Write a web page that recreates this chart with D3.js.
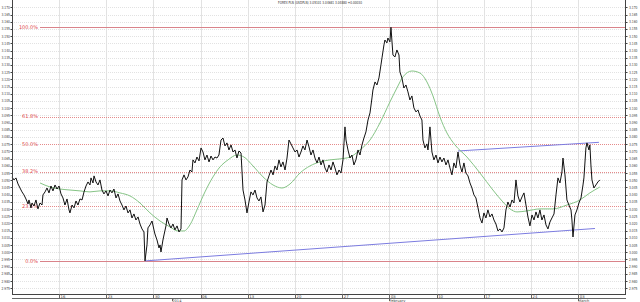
<!DOCTYPE html>
<html lang="en">
<head>
<meta charset="utf-8">
<title>FOREX PLN</title>
<script src="https://cdn.jsdelivr.net/npm/d3@7"></script>
<style>
body { margin: 0; background: #fff; }
svg { display: block; font-family: "DejaVu Sans", sans-serif; }
</style>
</head>
<body>
<script>
// chart text
var title = "FOREX PLN (USDPLN) 3.05101 3.04681 3.04880 +0.00030"

// price: [trading day since Mon 9 Dec 2013, quote]
var price = [
[0.02,3.0523],[0.23,3.0502],[0.44,3.0516],[0.66,3.0474],[0.87,3.0446],[1.08,3.0419],[1.29,3.0398],[1.50,3.0370],
[1.72,3.0335],[1.82,3.0363],[2.03,3.0308],[2.14,3.0342],[2.35,3.0321],[2.56,3.0363],[2.77,3.0301],[2.99,3.0342],
[3.20,3.0328],[3.30,3.0398],[3.52,3.0419],[3.73,3.0446],[3.94,3.0412],[4.15,3.0460],[4.36,3.0426],[4.58,3.0467],
[4.79,3.0439],[5.00,3.0460],[5.21,3.0405],[5.42,3.0377],[5.63,3.0328],[5.85,3.0370],[6.06,3.0294],[6.16,3.0273],
[6.38,3.0328],[6.59,3.0308],[6.80,3.0356],[7.01,3.0328],[7.22,3.0370],[7.44,3.0363],[7.65,3.0419],[7.86,3.0460],
[8.07,3.0488],[8.28,3.0467],[8.39,3.0516],[8.60,3.0481],[8.71,3.0530],[8.92,3.0488],[9.13,3.0467],[9.34,3.0502],
[9.55,3.0432],[9.76,3.0405],[9.98,3.0426],[10.19,3.0391],[10.40,3.0432],[10.61,3.0412],[10.82,3.0439],[11.04,3.0377],
[11.25,3.0405],[11.46,3.0356],[11.67,3.0328],[11.88,3.0294],[12.09,3.0321],[12.31,3.0273],[12.52,3.0294],[12.73,3.0238],
[12.94,3.0266],[13.15,3.0224],[13.37,3.0245],[13.58,3.0196],[13.79,3.0162],[14.00,3.0141],[14.11,2.9940],[14.32,3.0051],
[14.42,3.0169],[14.64,3.0190],[14.85,3.0217],[15.06,3.0155],[15.16,3.0127],[15.38,3.0085],[15.59,3.0030],[15.70,3.0051],
[15.80,3.0002],[16.01,3.0085],[16.12,3.0120],[16.33,3.0183],[16.44,3.0238],[16.65,3.0196],[16.86,3.0169],[17.07,3.0196],
[17.28,3.0155],[17.50,3.0183],[17.71,3.0141],[17.92,3.0162],[18.03,3.0502],[18.24,3.0537],[18.45,3.0502],[18.66,3.0523],
[18.87,3.0571],[19.08,3.0557],[19.19,3.0641],[19.40,3.0620],[19.61,3.0661],[19.83,3.0634],[20.04,3.0724],[20.25,3.0696],
[20.46,3.0641],[20.67,3.0675],[20.89,3.0627],[21.10,3.0668],[21.31,3.0641],[21.52,3.0661],[21.73,3.0654],[21.94,3.0675],
[22.16,3.0779],[22.37,3.0793],[22.58,3.0738],[22.79,3.0759],[23.00,3.0710],[23.22,3.0745],[23.43,3.0696],[23.64,3.0710],
[23.85,3.0654],[24.06,3.0703],[24.28,3.0689],[24.49,3.0432],[24.70,3.0363],[24.91,3.0273],[25.12,3.0349],[25.33,3.0419],
[25.55,3.0398],[25.76,3.0432],[25.97,3.0377],[26.18,3.0356],[26.39,3.0384],[26.61,3.0280],[26.82,3.0328],[27.03,3.0488],
[27.24,3.0530],[27.45,3.0571],[27.67,3.0537],[27.88,3.0599],[28.09,3.0571],[28.30,3.0641],[28.51,3.0592],[28.72,3.0627],
[28.94,3.0571],[29.15,3.0654],[29.36,3.0779],[29.57,3.0752],[29.78,3.0724],[30.00,3.0696],[30.21,3.0710],[30.42,3.0661],
[30.63,3.0696],[30.84,3.0738],[31.05,3.0710],[31.27,3.0779],[31.48,3.0731],[31.69,3.0675],[31.90,3.0710],[32.11,3.0654],
[32.33,3.0620],[32.54,3.0661],[32.75,3.0606],[32.96,3.0641],[33.17,3.0585],[33.38,3.0557],[33.60,3.0606],[33.81,3.0571],
[34.02,3.0627],[34.23,3.0585],[34.44,3.0537],[34.66,3.0571],[34.87,3.0550],[35.08,3.0641],[35.29,3.0870],[35.40,3.0779],
[35.61,3.0710],[35.82,3.0654],[36.03,3.0675],[36.24,3.0606],[36.45,3.0641],[36.67,3.0710],[36.88,3.0675],[37.09,3.0745],
[37.30,3.0793],[37.51,3.0835],[37.73,3.0918],[37.94,3.0967],[38.15,3.1071],[38.25,3.1126],[38.47,3.1182],[38.68,3.1161],
[38.89,3.1210],[39.10,3.1300],[39.21,3.1349],[39.42,3.1439],[39.52,3.1473],[39.73,3.1453],[39.84,3.1487],[40.05,3.1460],
[40.16,3.1561],[40.37,3.1369],[40.58,3.1355],[40.79,3.1404],[41.01,3.1369],[41.11,3.1251],[41.32,3.1210],[41.53,3.1140],
[41.75,3.1161],[41.96,3.1113],[42.17,3.1057],[42.38,3.1085],[42.59,3.1002],[42.81,3.0974],[43.02,3.0988],[43.23,3.0946],
[43.44,3.0918],[43.55,3.0779],[43.76,3.0724],[43.97,3.0752],[44.08,3.0710],[44.18,3.0779],[44.29,3.0870],[44.50,3.0696],
[44.71,3.0641],[44.93,3.0675],[45.14,3.0620],[45.35,3.0661],[45.56,3.0627],[45.77,3.0654],[45.99,3.0606],[46.20,3.0641],
[46.41,3.0585],[46.62,3.0537],[46.83,3.0620],[47.04,3.0585],[47.26,3.0696],[47.47,3.0606],[47.68,3.0557],[47.89,3.0620],
[48.10,3.0550],[48.32,3.0530],[48.53,3.0481],[48.74,3.0446],[48.95,3.0398],[49.16,3.0377],[49.38,3.0308],[49.59,3.0238],
[49.80,3.0203],[50.01,3.0273],[50.22,3.0238],[50.43,3.0294],[50.65,3.0245],[50.86,3.0266],[51.07,3.0224],[51.28,3.0196],
[51.49,3.0148],[51.71,3.0162],[51.92,3.0141],[52.13,3.0169],[52.34,3.0294],[52.55,3.0349],[52.77,3.0314],[52.98,3.0363],
[53.19,3.0342],[53.40,3.0502],[53.61,3.0391],[53.82,3.0349],[54.04,3.0384],[54.25,3.0412],[54.46,3.0328],[54.67,3.0245],
[54.88,3.0183],[55.10,3.0259],[55.31,3.0224],[55.52,3.0280],[55.73,3.0238],[55.94,3.0294],[56.15,3.0224],[56.37,3.0259],
[56.58,3.0190],[56.79,3.0162],[57.00,3.0210],[57.21,3.0238],[57.43,3.0266],[57.64,3.0398],[57.85,3.0516],[58.06,3.0481],
[58.27,3.0557],[58.38,3.0654],[58.59,3.0537],[58.80,3.0363],[59.01,3.0328],[59.23,3.0294],[59.33,3.0224],[59.44,3.0106],
[59.65,3.0259],[59.86,3.0294],[60.07,3.0342],[60.29,3.0377],[60.50,3.0467],[60.60,3.0516],[60.81,3.0724],[60.92,3.0759],
[61.13,3.0710],[61.23,3.0745],[61.34,3.0606],[61.45,3.0502],[61.66,3.0446],[61.87,3.0467],[62.08,3.0488],[62.29,3.0502]
]

// moving average (green)
var average = [
[2.99,3.0481],[4.05,3.0453],[5.10,3.0439],[6.16,3.0432],[7.22,3.0426],[8.28,3.0419],[9.34,3.0426],[10.40,3.0426],
[11.46,3.0412],[12.52,3.0391],[13.58,3.0342],[14.64,3.0273],[15.70,3.0217],[16.75,3.0176],[17.60,3.0148],[18.24,3.0148],
[18.87,3.0190],[19.61,3.0294],[20.46,3.0419],[21.31,3.0523],[22.05,3.0592],[22.90,3.0641],[23.85,3.0675],[24.59,3.0661],
[25.55,3.0599],[26.61,3.0523],[27.67,3.0467],[28.62,3.0446],[29.47,3.0474],[30.52,3.0550],[31.58,3.0599],[32.64,3.0627],
[33.70,3.0641],[34.76,3.0648],[35.82,3.0661],[36.88,3.0710],[37.94,3.0779],[38.99,3.0897],[40.05,3.1043],[40.79,3.1140],
[41.43,3.1217],[42.38,3.1258],[43.23,3.1244],[43.97,3.1182],[44.61,3.1085],[45.35,3.0939],[46.09,3.0828],[46.94,3.0745],
[48.21,3.0661],[49.59,3.0550],[50.96,3.0432],[52.02,3.0349],[52.77,3.0301],[53.51,3.0280],[54.56,3.0287],[55.94,3.0301],
[57.32,3.0301],[58.80,3.0328],[60.18,3.0363],[61.23,3.0412],[62.29,3.0453]
]

// fibonacci retracement between low and high
var fibLow = 2.9940, fibHigh = 3.1561
var fibRatios = [0, 0.236, 0.382, 0.5, 0.618, 1]
var fibLabels = ["0.0%", "23.6%", "38.2%", "50.0%", "61.8%", "100.0%"]

// trend lines
var trendLower = [[14.11, 2.9940], [61.77, 3.0165]]
var trendUpper = [[47.26, 3.0703], [62.19, 3.0763]]

// axes
var yTicks = d3.range(2.975, 3.1701, 0.005)
var weekDays = [5, 10, 15, 20, 25, 30, 35, 40, 45, 50, 55, 60]
var weekLabels = ["16", "23", "30", "06", "13", "20", "27", "03", "10", "17", "24", "03"]
var monthDays = [17, 40, 60]
var monthLabels = ["2014", "February", "March"]

var w = 640, h = 302
var plotL = 12, plotR = 625, plotT = 0, plotB = 294

var svg = d3.select("body").append("svg").attr("width", w).attr("height", h)

var x = d3.scaleLinear().domain([0, 64.95]).range([11.8, plotR])
var y = d3.scaleLinear().domain([2.97104, 3.17507]).range([plotB, plotT])

var py = function(d) { return Math.round(y(d)) + 0.5 }
var px = function(d) { return Math.round(x(d)) + 0.5 }

// grid
svg.selectAll(".hgrid")
	.data(yTicks)
	.enter()
	.append("line")
	.attr("class", "hgrid")
	.attr("x1", plotL).attr("x2", plotR)
	.attr("y1", py)
	.attr("y2", py)
	.attr("stroke", "#e2e2e2")
	.attr("stroke-dasharray", "1,1")

svg.selectAll(".vgrid")
	.data(weekDays)
	.enter()
	.append("line")
	.attr("class", "vgrid")
	.attr("x1", px)
	.attr("x2", px)
	.attr("y1", plotT).attr("y2", plotB)
	.attr("stroke", "#e2e2e2")

// fibonacci levels
var fibValue = function(d) { return fibLow + d * (fibHigh - fibLow) }

var fib = svg.selectAll(".fib")
	.data(fibRatios)
	.enter()
	.append("g")
	.attr("class", "fib")

fib.append("line")
	.attr("x1", 40).attr("x2", plotR)
	.attr("y1", function(d) { return py(fibValue(d)) })
	.attr("y2", function(d) { return py(fibValue(d)) })
	.attr("stroke", function(d) { return (d == 0 || d == 1) ? "#d9838a" : "#e58a8a" })
	.attr("stroke-dasharray", function(d) { return (d == 0 || d == 1) ? null : "1,1" })

fib.append("text")
	.attr("x", 38)
	.attr("y", function(d) { return y(fibValue(d)) + 1.8 })
	.attr("text-anchor", "end")
	.attr("font-size", "5px")
	.attr("fill", "#e0474c")
	.text(function(d, i) { return fibLabels[i] })

// trend lines
var dataLine = d3.line()
	.x(function(d) { return x(d[0]) })
	.y(function(d) { return y(d[1]) })

svg.selectAll(".trend")
	.data([trendLower, trendUpper])
	.enter()
	.append("path")
	.attr("class", "trend")
	.attr("d", dataLine)
	.attr("fill", "none")
	.attr("stroke", "#7c7ce0")
	.attr("stroke-width", 1)

// moving average
svg.append("path")
	.datum(average)
	.attr("d", d3.line()
		.x(function(d) { return x(d[0]) })
		.y(function(d) { return y(d[1]) })
		.curve(d3.curveMonotoneX))
	.attr("fill", "none")
	.attr("stroke", "#86c486")
	.attr("stroke-width", 1)

// price
svg.append("path")
	.datum(price)
	.attr("d", dataLine)
	.attr("fill", "none")
	.attr("stroke", "#111")
	.attr("stroke-width", 1)

// side axes
svg.selectAll(".axisline")
	.data([plotL, plotR])
	.enter()
	.append("line")
	.attr("class", "axisline")
	.attr("x1", function(d) { return d + 0.5 })
	.attr("x2", function(d) { return d + 0.5 })
	.attr("y1", plotT).attr("y2", plotB)
	.attr("stroke", "#444")

svg.selectAll(".ltick")
	.data(yTicks)
	.enter()
	.append("line")
	.attr("class", "ltick")
	.attr("x1", plotL - 1.5).attr("x2", plotL + 1)
	.attr("y1", py)
	.attr("y2", py)
	.attr("stroke", "#444")

svg.selectAll(".rtick")
	.data(yTicks)
	.enter()
	.append("line")
	.attr("class", "rtick")
	.attr("x1", plotR).attr("x2", plotR + 2.5)
	.attr("y1", py)
	.attr("y2", py)
	.attr("stroke", "#444")

svg.selectAll(".llabel")
	.data(yTicks)
	.enter()
	.append("text")
	.attr("class", "llabel")
	.attr("x", 1.5)
	.attr("y", function(d) { return y(d) + 1.5 })
	.attr("textLength", 8.5)
	.attr("lengthAdjust", "spacingAndGlyphs")
	.attr("font-size", "4px")
	.attr("fill", "#444")
	.text(function(d) { return d3.format(".3f")(d) })

svg.selectAll(".rlabel")
	.data(yTicks)
	.enter()
	.append("text")
	.attr("class", "rlabel")
	.attr("x", plotR + 4)
	.attr("y", function(d) { return y(d) + 1.5 })
	.attr("textLength", 8.5)
	.attr("lengthAdjust", "spacingAndGlyphs")
	.attr("font-size", "4px")
	.attr("fill", "#444")
	.text(function(d) { return d3.format(".3f")(d) })

// bottom time strip
svg.append("line")
	.attr("x1", plotL).attr("x2", plotR + 1)
	.attr("y1", plotB + 0.5).attr("y2", plotB + 0.5)
	.attr("stroke", "#444")
svg.append("line")
	.attr("x1", plotL).attr("x2", plotR + 1)
	.attr("y1", plotB + 4.5).attr("y2", plotB + 4.5)
	.attr("stroke", "#666")

svg.selectAll(".wtick")
	.data(weekDays)
	.enter()
	.append("line")
	.attr("class", "wtick")
	.attr("x1", px)
	.attr("x2", px)
	.attr("y1", plotB).attr("y2", plotB + 4.5)
	.attr("stroke", "#666")

svg.selectAll(".wlabel")
	.data(weekDays)
	.enter()
	.append("text")
	.attr("class", "wlabel")
	.attr("x", function(d) { return x(d) + 1.5 })
	.attr("y", plotB + 4)
	.attr("font-size", "3.8px")
	.attr("fill", "#444")
	.text(function(d, i) { return weekLabels[i] })

svg.selectAll(".mtick")
	.data(monthDays)
	.enter()
	.append("line")
	.attr("class", "mtick")
	.attr("x1", px)
	.attr("x2", px)
	.attr("y1", plotB + 4.5).attr("y2", plotB + 7)
	.attr("stroke", "#666")

svg.selectAll(".mlabel")
	.data(monthDays)
	.enter()
	.append("text")
	.attr("class", "mlabel")
	.attr("x", function(d) { return x(d) })
	.attr("y", plotB + 7.8)
	.attr("font-size", "3.6px")
	.attr("fill", "#444")
	.text(function(d, i) { return monthLabels[i] })

// title
svg.append("text")
	.attr("x", 278)
	.attr("y", 4)
	.attr("textLength", 84)
	.attr("lengthAdjust", "spacingAndGlyphs")
	.attr("font-size", "4px")
	.attr("fill", "#333")
	.text(title)
</script>
</body>
</html>
